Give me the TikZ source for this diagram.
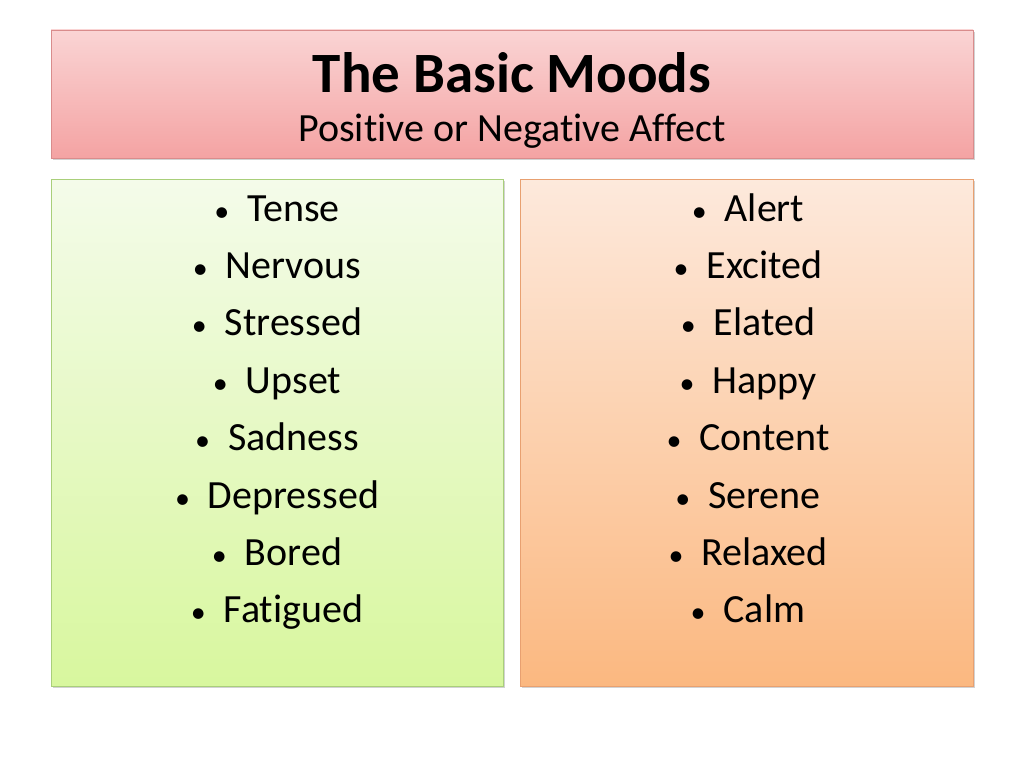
\documentclass[tikz,border=0pt]{standalone}
\usepackage{fontspec}
\setmainfont[Ligatures={NoCommon}]{Carlito}
\usetikzlibrary{shadows}
\definecolor{hdtop}{HTML}{FAD4D4}
\definecolor{hdbot}{HTML}{F4A3A3}
\definecolor{hdline}{HTML}{D98C8C}
\definecolor{gtop}{HTML}{F4FBEA}
\definecolor{gbot}{HTML}{D8F79E}
\definecolor{gline}{HTML}{A9CF7A}
\definecolor{otop}{HTML}{FDE9DC}
\definecolor{obot}{HTML}{FBB880}
\definecolor{oline}{HTML}{E8A070}
\begin{document}
\begin{tikzpicture}[x=1pt,y=-1pt,
  panel/.style={draw, line width=0.8pt, drop shadow={shadow xshift=1.5pt,shadow yshift=-2pt,opacity=0.35}},
  item/.style={font=\fontsize{40}{46}\selectfont, anchor=base, inner sep=0pt}]
\useasboundingbox (0,0) rectangle (1024,768);
\fill[white] (0,0) rectangle (1024,768);
\draw[panel, draw=hdline, top color=hdtop, bottom color=hdbot] (51,30) rectangle (973,158);
\node[font=\fontsize{57}{62}\selectfont\bfseries, anchor=base, inner sep=0pt] (title) at (512,92) {The Basic Moods};
\node[font=\fontsize{40}{46}\selectfont, anchor=base, inner sep=0pt] (sub) at (512,141) {Positive or Negative Affect};
\draw[panel, draw=gline, top color=gtop, bottom color=gbot] (51,179) rectangle (503,686);
\draw[panel, draw=oline, top color=otop, bottom color=obot] (520,179) rectangle (973,686);
\foreach \t [count=\i] in {Tense,Nervous,Stressed,Upset,Sadness,Depressed,Bored,Fatigued}
  \node[item] (l\i) at (277,{221+57.4*(\i-1)}) {\scalebox{0.75}{\textbullet}\hspace{18pt}\t};
\foreach \t [count=\i] in {Alert,Excited,Elated,Happy,Content,Serene,Relaxed,Calm}
  \node[item] (r\i) at (748,{221+57.4*(\i-1)}) {\scalebox{0.75}{\textbullet}\hspace{18pt}\t};
\end{tikzpicture}
\end{document}
